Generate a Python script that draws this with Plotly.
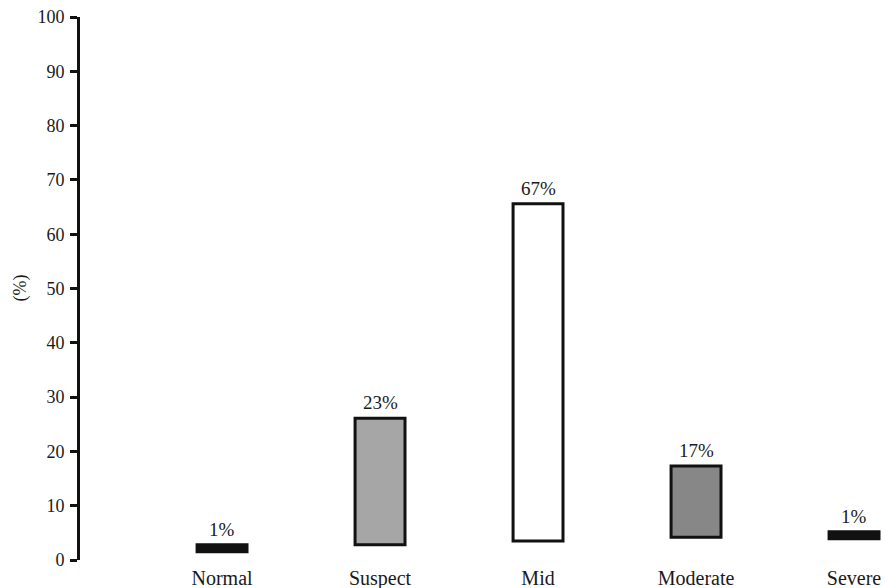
import plotly.graph_objects as go

categories = ["Normal", "Suspect", "Mid", "Moderate", "Severe"]
bar_bottom = [1.5, 2.8, 3.5, 4.2, 3.9]
bar_top = [2.8, 26.1, 65.6, 17.3, 5.2]
pct_labels = ["1%", "23%", "67%", "17%", "1%"]
fill_colors = ["#111111", "#a6a6a6", "#ffffff", "#878787", "#111111"]
y_ticks = [0, 10, 20, 30, 40, 50, 60, 70, 80, 90, 100]

heights = [t - b for t, b in zip(bar_top, bar_bottom)]
FONT = "Liberation Serif"
TXT = "#1a1a1a"

fig = go.Figure()
fig.add_trace(go.Bar(
    x=list(range(len(categories))),
    y=heights,
    base=bar_bottom,
    width=0.316,
    marker=dict(color=fill_colors, line=dict(color="#111111", width=3)),
    showlegend=False,
))

for i, (t, lab) in enumerate(zip(bar_top, pct_labels)):
    fig.add_annotation(x=i, y=t, text=lab, showarrow=False, yanchor="bottom",
                       yshift=3, font=dict(family=FONT, size=19, color=TXT))

fig.add_annotation(xref="paper", yref="paper", x=(20 - 80) / 805, y=0.5,
                   text="(%)", textangle=-90, showarrow=False,
                   xanchor="center", yanchor="middle",
                   font=dict(family=FONT, size=18, color=TXT))

fig.update_layout(
    template="none",
    width=885, height=588,
    margin=dict(l=80, r=0, t=17, b=28),
    paper_bgcolor="white", plot_bgcolor="white",
    font=dict(family=FONT, size=18, color=TXT),
    xaxis=dict(
        range=[-0.899, 4.196],
        tickmode="array", tickvals=list(range(len(categories))), ticktext=categories,
        showline=False, showgrid=False, zeroline=False, ticks="",
        ticklabelstandoff=4,
        automargin=False, tickfont=dict(family=FONT, size=20, color=TXT),
    ),
    yaxis=dict(
        range=[0, 100],
        tickmode="array", tickvals=y_ticks,
        showline=True, linewidth=3, linecolor="#111111",
        ticks="outside", ticklen=7, tickwidth=3, tickcolor="#111111",
        ticklabelstandoff=2,
        showgrid=False, zeroline=False, automargin=False,
        tickfont=dict(family=FONT, size=18, color=TXT),
    ),
)

fig.write_html("out.html", config={"displayModeBar": False},
               post_script="document.body.style.margin='0';document.body.style.overflow='hidden';")
